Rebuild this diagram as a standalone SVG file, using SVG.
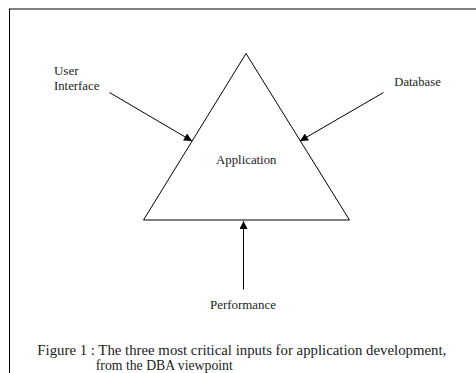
<svg xmlns="http://www.w3.org/2000/svg" width="476" height="373" viewBox="0 0 476 373">
  <style>
    .lbl { font-family: "Liberation Serif", "Times New Roman", serif; font-size: 12.5px; fill: #222; }
    .cap { font-family: "Liberation Serif", "Times New Roman", serif; font-size: 14px; fill: #222; }
    .edge { stroke: #000; stroke-width: 1; fill: none; }
  </style>
  <defs>
    <marker id="arrow" viewBox="0 0 10 10" refX="10" refY="5" markerWidth="10" markerHeight="8" markerUnits="userSpaceOnUse" orient="auto">
      <path d="M0,0 L10,5 L0,10 z" fill="#000"/>
    </marker>
  </defs>
  <rect width="476" height="373" fill="#fff"/>
  <!-- frame: grey top rule, black left rule -->
  <line x1="9" y1="9" x2="476" y2="9" stroke="#808080" stroke-width="2"/>
  <line x1="9.5" y1="9" x2="9.5" y2="373" stroke="#000" stroke-width="1"/>

  <g id="application">
    <polygon points="246,53.5 143.5,220 349.5,220" fill="none" stroke="#000" stroke-width="1"/>
    <text class="lbl" x="216" y="164" textLength="60.5" lengthAdjust="spacingAndGlyphs">Application</text>
  </g>
  <g id="user-interface">
    <text class="lbl" x="54" y="75" textLength="24.5" lengthAdjust="spacingAndGlyphs">User</text>
    <text class="lbl" x="54" y="90" textLength="45.3" lengthAdjust="spacingAndGlyphs">Interface</text>
  </g>
  <g id="database">
    <text class="lbl" x="394.3" y="86" textLength="46.5" lengthAdjust="spacingAndGlyphs">Database</text>
  </g>
  <g id="performance">
    <text class="lbl" x="210" y="308.5" textLength="66" lengthAdjust="spacingAndGlyphs">Performance</text>
  </g>

  <g id="connectors">
    <line class="edge" x1="109.5" y1="92.5" x2="192" y2="141" marker-end="url(#arrow)"/>
    <line class="edge" x1="383.5" y1="92.5" x2="300" y2="141" marker-end="url(#arrow)"/>
    <line class="edge" x1="243.5" y1="289.5" x2="243.5" y2="221" marker-end="url(#arrow)"/>
  </g>

  <g id="caption">
    <text class="cap" x="37.3" y="355" textLength="409" lengthAdjust="spacingAndGlyphs">Figure 1 : The three most critical inputs for application development,</text>
    <text class="cap" x="95.8" y="370" textLength="137" lengthAdjust="spacingAndGlyphs">from the DBA viewpoint</text>
  </g>
</svg>
